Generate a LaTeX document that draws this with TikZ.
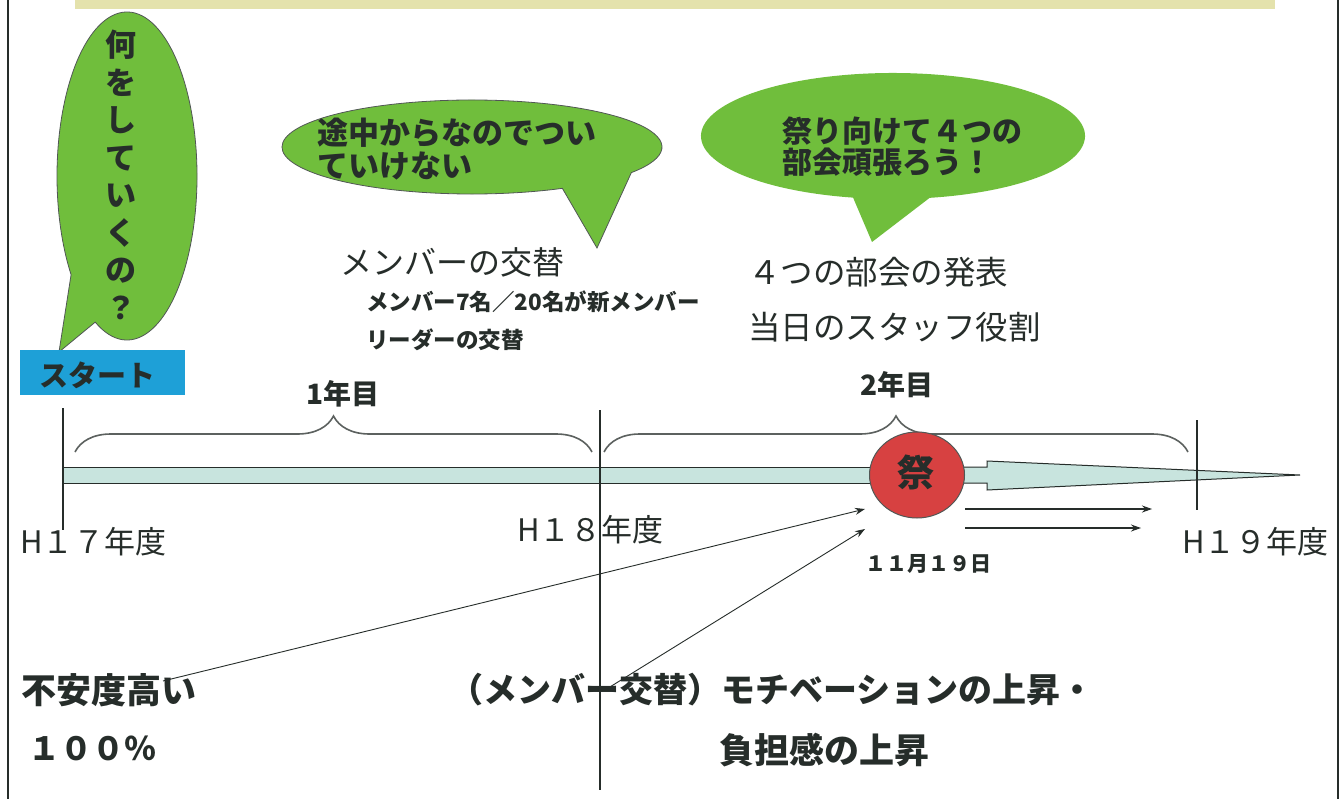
\documentclass[tikz,border=0pt]{standalone}
\usepackage{fontspec}
\newfontfamily\jp{Noto Sans CJK JP}
\usetikzlibrary{decorations.pathreplacing,arrows.meta,calc,shapes.geometric}
\definecolor{bubgreen}{RGB}{112,190,60}
\definecolor{startcyan}{RGB}{30,160,215}
\definecolor{festred}{RGB}{215,65,65}
\definecolor{barfill}{RGB}{200,228,222}
\definecolor{band}{RGB}{228,226,172}
\definecolor{ink}{RGB}{38,45,42}
\tikzset{
  txt/.style={inner sep=0pt, text=ink, font=\jp},
  bold/.style={txt, font=\jp\bfseries},
  bubble/.style={fill=bubgreen, draw=ink!80, line width=0.8pt},
  bubblenl/.style={fill=bubgreen},
  vline/.style={draw=ink, line width=1.2pt},
  bracestyle/.style={draw=ink!75, line width=1.6pt, decorate},
  thinarrow/.style={draw=ink, line width=1.1pt, -{Stealth[length=10pt,width=7pt]}},
}
\begin{document}
\begin{tikzpicture}[x=1pt,y=-1pt]
\useasboundingbox (0,0) rectangle (1343,799);
\fill[white] (0,0) rectangle (1343,799);
% top band and frame
\fill[band] (75,0) rectangle (1275,9);
\draw[ink, line width=1.3pt] (8,0) -- (8,799);
\draw[ink, line width=1.3pt] (1338,0) -- (1338,799);

% left bubble
\path[bubble] (127,176) ++(117:70 and 164)
  arc[start angle=117, end angle=-217, x radius=70, y radius=164]
  -- (59,352) -- cycle;
\node[bold, align=center, font=\jp\bfseries\fontsize{31}{37.5}\selectfont] (q1) at (121,175)
  {何\\を\\し\\て\\い\\く\\の\\？};

% start box
\node[fill=startcyan, minimum width=165pt, minimum height=45pt, inner sep=0pt] (startbox) at (102.5,372.5) {};
\node[bold, font=\jp\bfseries\fontsize{29}{30}\selectfont] (starttxt) at (97,375) {スタート};

% middle bubble
\path[bubble] (472,147) ++(61.6:190 and 47)
  arc[start angle=61.6, end angle=393, x radius=190, y radius=47]
  -- (597,248) -- cycle;
\node[bold, anchor=west, align=left, font=\jp\bfseries\fontsize{31}{33}\selectfont] (q2) at (317,149)
  {途中からなのでつい\\ていけない};

% right bubble
\path[bubblenl] (893,136) ++(102:192 and 63)
  arc[start angle=102, end angle=439, x radius=192, y radius=63]
  -- (872,242) -- cycle;
\node[bold, anchor=west, align=left, font=\jp\bfseries\fontsize{30}{31}\selectfont] (q3) at (782,147)
  {祭り向けて４つの\\部会頑張ろう！};

% member change texts
\node[txt, anchor=west, font=\jp\fontsize{32}{34}\selectfont] (koutai) at (340,262) {メンバーの交替};
\node[bold, anchor=west, align=left, font=\jp\bfseries\fontsize{22.5}{38}\selectfont] (koutai2) at (366,321)
  {メンバー7名／20名が新メンバー\\リーダーの交替};

% festival texts
\node[txt, anchor=west, align=left, font=\jp\fontsize{32.5}{55}\selectfont] (bukai) at (748,300)
  {４つの部会の発表\\当日のスタッフ役割};

% timeline bar
\path[fill=barfill, draw=ink, line width=1pt] (63,467) rectangle (870,483);
\path[fill=barfill, draw=ink, line width=1pt] (950,467) -- (987,467) -- (987,461) -- (1300,475)
  -- (987,490) -- (987,483) -- (950,483);

% vertical year lines
\coordinate (v17t) at (63,408); \coordinate (v17b) at (63,530);
\coordinate (v18t) at (600,410); \coordinate (v18b) at (600,790);
\coordinate (v19t) at (1197,420); \coordinate (v19b) at (1197,510);
\draw[vline] (v17t) -- (v17b);
\draw[vline] (v18t) -- (v18b);
\draw[vline] (v19t) -- (v19b);

% braces
\coordinate (b1s) at (75,452); \coordinate (b1e) at (592,452);
\coordinate (b2s) at (604,452); \coordinate (b2e) at (1188,452);
\draw[bracestyle, decoration={brace, amplitude=36pt}] (b1s) -- (b1e);
\draw[bracestyle, decoration={brace, amplitude=36pt}] (b2s) -- (b2e);
\node[bold, font=\jp\bfseries\fontsize{28}{30}\selectfont] (y1) at (343,394) {1年目};
\node[bold, font=\jp\bfseries\fontsize{28}{30}\selectfont] (y2) at (897,385) {2年目};

% festival circle
\node[ellipse, fill=festred, draw=ink!80, line width=1pt, minimum width=95pt, minimum height=86pt, inner sep=0pt] (fest) at (917,475) {};
\node[bold, font=\jp\bfseries\fontsize{37}{38}\selectfont] (festtxt) at (916,472) {祭};

% year labels
\node[txt, anchor=west, font=\jp\fontsize{31}{32}\selectfont] (h17) at (20,542) {H１７年度};
\node[txt, anchor=west, font=\jp\fontsize{31}{32}\selectfont] (h18) at (517,530) {H１８年度};
\node[txt, anchor=west, font=\jp\fontsize{31}{32}\selectfont] (h19) at (1182,542) {H１９年度};
\node[bold, font=\jp\bfseries\fontsize{21}{22}\selectfont] (date) at (928,564) {１１月１９日};

% right arrows
\coordinate (r1s) at (965,509); \coordinate (r1e) at (1152,509);
\coordinate (r2s) at (965,528); \coordinate (r2e) at (1141,528);
\draw[thinarrow] (r1s) -- (r1e);
\draw[thinarrow] (r2s) -- (r2e);

% bottom texts
\node[bold, anchor=west, font=\jp\bfseries\fontsize{35}{36}\selectfont] (fuan) at (21,690) {不安度高い};
\node[bold, anchor=west, font=\jp\bfseries\fontsize{32}{34}\selectfont] (pct) at (28,748) {１００％};
\node[bold, anchor=west, font=\jp\bfseries\fontsize{34}{36}\selectfont] (motiv) at (449,690) {（メンバー交替）モチベーションの上昇・};
\node[bold, anchor=west, font=\jp\bfseries\fontsize{35}{36}\selectfont] (futan) at (719,750) {負担感の上昇};

% diagonal arrows
\coordinate (d1s) at ($(fuan.west)+(142,-9)$);
\coordinate (d1e) at (865,509);
\coordinate (d2s) at ($(motiv.west)+(156,0)$);
\coordinate (d2e) at (865,529);
\draw[thinarrow, line width=0.9pt] (d1s) -- (d1e);
\draw[thinarrow, line width=0.9pt] (d2s) -- (d2e);
\end{tikzpicture}
\end{document}
